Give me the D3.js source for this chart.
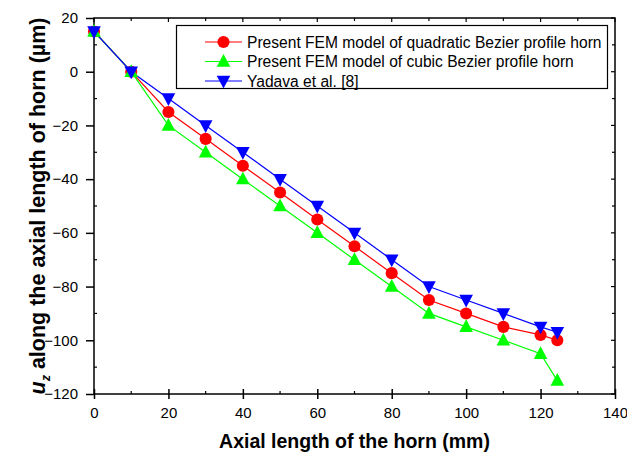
<!DOCTYPE html>
<html>
<head>
<meta charset="utf-8">
<script src="https://cdn.jsdelivr.net/npm/d3@7/dist/d3.min.js"></script>
<style>
  html, body { margin: 0; padding: 0; background: #fff; }
  svg { display: block; font-family: Arial, "Liberation Sans", sans-serif; }
</style>
</head>
<body>
<svg id="chart" width="627" height="459"></svg>
<script>
// Axial positions (mm) along the horn
const positions = [0, 10, 20, 30, 40, 50, 60, 70, 80, 90, 100, 110, 120, 124.5];
// Axial displacement u_z (µm) for each profile / source
const quadraticFEM = [15, 0, -15, -25, -35, -45, -55, -65, -75, -85, -90, -95, -98, -100];
const cubicFEM     = [15, 0, -20, -30, -40, -50, -60, -70, -80, -90, -95, -100, -105, -115];
const yadava       = [15, 0, -10, -20, -30, -40, -50, -60, -70, -80, -85, -90, -95, -97];

const seriesNames = [
  "Present FEM model of quadratic Bezier profile horn",
  "Present FEM model of cubic Bezier profile horn",
  "Yadava et al. [8]"
];
const xTicks = [0, 20, 40, 60, 80, 100, 120, 140];
const yTicks = [20, 0, -20, -40, -60, -80, -100, -120];

const series = [
  { name: seriesNames[0], values: quadraticFEM, color: "#ff0000", symbol: "circle" },
  { name: seriesNames[1], values: cubicFEM,     color: "#00ff00", symbol: "up" },
  { name: seriesNames[2], values: yadava,       color: "#0000ff", symbol: "down" }
];

const svg = d3.select("#chart");
const plotL = 94, plotR = 615, plotT = 18, plotB = 394;
const labelFont = "Arial, 'Liberation Sans', sans-serif";

const x = d3.scaleLinear().domain([0, 140]).range([plotL, plotR]);
const y = d3.scaleLinear().domain([-120, 20]).range([plotB, plotT]);

// Marker shapes
function markerPath(symbol) {
  if (symbol === "circle") return d3.symbol().type(d3.symbolCircle).size(115)();
  if (symbol === "up") return "M0,-7.5L6.8,5.2L-6.8,5.2Z";
  return "M0,7.5L6.8,-5.2L-6.8,-5.2Z";
}

// Frame
svg.append("rect")
  .attr("x", plotL).attr("y", plotT)
  .attr("width", plotR - plotL).attr("height", plotB - plotT)
  .attr("fill", "none").attr("stroke", "#000").attr("stroke-width", 1.5);

// Bottom axis: major ticks crossing the axis, minor ticks inward
const gx = svg.append("g").attr("transform", `translate(0,${plotB})`)
  .call(d3.axisBottom(x).tickValues(xTicks).tickSize(5).tickSizeOuter(0).tickPadding(8));
gx.select(".domain").remove();
gx.selectAll(".tick line").attr("y1", -5).attr("stroke-width", 1.5);
gx.selectAll(".tick text").attr("font-size", 15).attr("fill", "#000")
  .attr("font-family", labelFont);

const xMinor = d3.range(10, 140, 20);
svg.append("g").selectAll("line").data(xMinor).join("line")
  .attr("x1", d => x(d)).attr("x2", d => x(d))
  .attr("y1", plotB - 3).attr("y2", plotB)
  .attr("stroke", "#000").attr("stroke-width", 1.2);

// Top axis ticks (inward)
svg.append("g").selectAll("line").data(d3.range(0, 141, 10)).join("line")
  .attr("x1", d => x(d)).attr("x2", d => x(d))
  .attr("y1", plotT).attr("y2", d => plotT + (d % 20 === 0 ? 4 : 3))
  .attr("stroke", "#000").attr("stroke-width", 1.2);

// Left axis: major ticks outward, minor inward
const gy = svg.append("g").attr("transform", `translate(${plotL},0)`)
  .call(d3.axisLeft(y).tickValues(yTicks).tickSize(8).tickSizeOuter(0).tickPadding(8));
gy.select(".domain").remove();
gy.selectAll(".tick line").attr("stroke-width", 1.5);
gy.selectAll(".tick text").attr("font-size", 15).attr("fill", "#000")
  .attr("font-family", labelFont);

const yMinor = d3.range(-110, 20, 20);
svg.append("g").selectAll("line").data(yMinor).join("line")
  .attr("x1", plotL).attr("x2", plotL + 3)
  .attr("y1", d => y(d)).attr("y2", d => y(d))
  .attr("stroke", "#000").attr("stroke-width", 1.2);

// Right axis ticks (inward)
svg.append("g").selectAll("line").data(d3.range(-120, 21, 10)).join("line")
  .attr("x1", plotR).attr("x2", d => plotR - (d % 20 === 0 ? 4 : 3))
  .attr("y1", d => y(d)).attr("y2", d => y(d))
  .attr("stroke", "#000").attr("stroke-width", 1.2);

// Series lines and markers
const line = d3.line().x((d, i) => x(positions[i])).y(d => y(d));
series.forEach(s => {
  svg.append("path")
    .attr("d", line(s.values))
    .attr("fill", "none").attr("stroke", s.color).attr("stroke-width", 1.2);
});
series.forEach(s => {
  svg.append("g").selectAll("path").data(s.values).join("path")
    .attr("transform", (d, i) => `translate(${x(positions[i])},${y(d)})`)
    .attr("d", markerPath(s.symbol))
    .attr("fill", s.color);
});

// Legend
const lg = svg.append("g");
lg.append("rect")
  .attr("x", 176.5).attr("y", 25.5).attr("width", 431).attr("height", 63)
  .attr("fill", "#fff").attr("stroke", "#000").attr("stroke-width", 1.2);
series.forEach((s, i) => {
  const ry = 42 + i * 19.5;
  lg.append("line").attr("x1", 205).attr("x2", 242).attr("y1", ry).attr("y2", ry)
    .attr("stroke", s.color).attr("stroke-width", 1.2);
  lg.append("path").attr("transform", `translate(223.5,${ry})`)
    .attr("d", markerPath(s.symbol)).attr("fill", s.color);
  lg.append("text").attr("x", 247).attr("y", ry + 5.5)
    .attr("font-size", 15.6).attr("fill", "#000").text(s.name);
});

// Axis titles
svg.append("text")
  .attr("x", (plotL + plotR) / 2).attr("y", 448)
  .attr("text-anchor", "middle").attr("font-size", 19.5).attr("font-weight", "bold")
  .text("Axial length of the horn (mm)");

const yt = svg.append("text")
  .attr("transform", `translate(45,206) rotate(-90)`)
  .attr("text-anchor", "middle").attr("font-size", 21.5).attr("font-weight", "bold");
yt.append("tspan").attr("font-style", "italic").text("u");
yt.append("tspan").attr("font-size", 12.5).attr("font-style", "italic").attr("dy", 5).text("z");
yt.append("tspan").attr("dy", -5).text(" along the axial length of horn (\u00b5m)");
</script>
</body>
</html>
